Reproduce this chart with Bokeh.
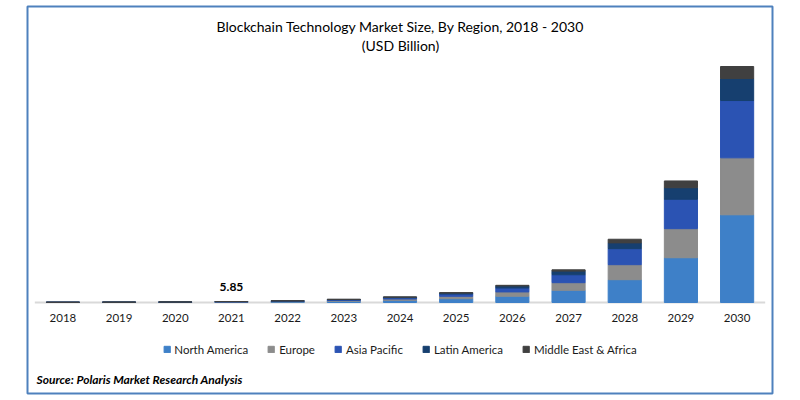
from bokeh.plotting import figure
from bokeh.models import ColumnDataSource, FactorRange, Range1d, Legend, LegendItem
from bokeh.core.properties import value
from bokeh.embed import file_html
from bokeh.resources import INLINE

years = ["2018", "2019", "2020", "2021", "2022", "2023", "2024",
         "2025", "2026", "2027", "2028", "2029", "2030"]
north_america = [0.61, 0.84, 1.26, 2.23, 4.1, 7.4, 12.9, 23.0, 38, 74, 138, 271, 531]
europe = [0.38, 0.53, 0.79, 1.40, 2.6, 4.7, 8.2, 14.4, 26, 46, 91, 176, 345]
asia_pacific = [0.37, 0.51, 0.76, 1.35, 2.5, 4.5, 7.8, 13.8, 24, 48, 97, 178, 347]
latin_america = [0.15, 0.20, 0.31, 0.55, 1.0, 1.9, 3.2, 5.7, 12, 22, 35, 70, 133]
middle_east_africa = [0.09, 0.12, 0.18, 0.32, 0.6, 1.0, 1.9, 3.1, 4, 8, 22, 41, 73]
series_names = ["North America", "Europe", "Asia Pacific", "Latin America", "Middle East & Africa"]
colors = ["#3E80C8", "#8C8C8C", "#2B53B3", "#163F6F", "#404040"]
label_years = ["2021"]
label_values = [5.85]

title_main = "Blockchain Technology Market Size, By Region, 2018 - 2030"
title_sub = "(USD Billion)"
source_text = "Source: Polaris Market Research Analysis"

FONT = "Lato"

keys = ["na", "eu", "ap", "la", "me"]
src = ColumnDataSource(dict(years=years, na=north_america, eu=europe,
                            ap=asia_pacific, la=latin_america, me=middle_east_africa))
totals = [sum(v) for v in zip(north_america, europe, asia_pacific, latin_america, middle_east_africa)]

# layout (picture pixels): frame spans the blue box, baseline at y=302, tallest bar top at y=66
W, H = 784, 396
FRAME_LEFT, FRAME_RIGHT = 27, 772
FRAME_TOP, FRAME_BOTTOM = 6, 393
BASE_Y, TOP_Y = 302, 66
PAD = 0.13
cat_px = (FRAME_RIGHT - FRAME_LEFT) / (len(years) + 2 * PAD)
px_per = (BASE_Y - TOP_Y) / max(totals)


def ypix(page_y):
    return (BASE_Y - page_y) / px_per


def xpix(page_x):
    return -PAD + (page_x - FRAME_LEFT) / cat_px


p = figure(x_range=FactorRange(*years, range_padding=PAD, range_padding_units="absolute"),
           y_range=Range1d(ypix(FRAME_BOTTOM), ypix(FRAME_TOP)),
           width=W, height=H, output_backend="svg", toolbar_location=None,
           title=None, min_border_left=FRAME_LEFT, min_border_right=W - FRAME_RIGHT,
           min_border_top=FRAME_TOP, min_border_bottom=H - FRAME_BOTTOM)
p.xaxis.visible = False
p.yaxis.visible = False
p.xgrid.visible = False
p.ygrid.visible = False
p.outline_line_color = "#4F81BD"
p.outline_line_width = 2

# category axis baseline
p.segment(x0=[0], y0=[0], x1=[len(years)], y1=[0], line_color="#D9D9D9", line_width=2)

renderers = p.vbar_stack(keys, x="years", width=0.59, source=src,
                         fill_color=colors, line_color=colors, line_width=1)

# category tick labels
p.text(x=years, y=[ypix(317)] * len(years), text=years,
       text_align="center", text_baseline="middle",
       text_font=value(FONT), text_font_size="11.5px", text_color="#1a1a1a")

# data label
p.text(x=label_years, y=label_values, text=[f"{v:.2f}" for v in label_values],
       text_align="center", text_baseline="middle", y_offset=-15,
       text_font=value(FONT), text_font_size="12px", text_font_style="bold",
       text_color="#000000")

# titles and source
mid_x = xpix(400)
p.text(x=[mid_x], y=[ypix(26)], text=[title_main], text_align="center", text_baseline="middle",
       text_font=value(FONT), text_font_size="14px", text_color="#000000")
p.text(x=[mid_x], y=[ypix(45)], text=[title_sub], text_align="center", text_baseline="middle",
       text_font=value(FONT), text_font_size="14px", text_color="#000000")
p.text(x=[xpix(36)], y=[ypix(379)], text=[source_text], text_align="left",
       text_baseline="middle", text_font=value(FONT), text_font_size="12px",
       text_font_style="bold italic", text_color="#000000")

legend = Legend(items=[LegendItem(label=n, renderers=[r]) for n, r in zip(series_names, renderers)],
                orientation="horizontal", location="bottom_center",
                label_text_font=FONT, label_text_font_size="11.5px",
                label_text_color="#1a1a1a", glyph_width=8, glyph_height=8,
                label_standoff=4, spacing=19, border_line_color=None,
                background_fill_alpha=0, padding=0, margin=37, label_height=14)
p.add_layout(legend, "center")

open("out.html", "w").write(file_html(p, INLINE))
